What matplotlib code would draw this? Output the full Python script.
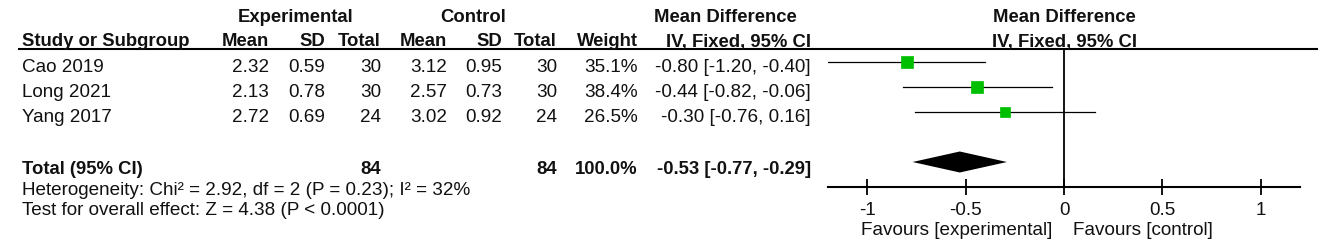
import numpy as np
import matplotlib
matplotlib.use("Agg")
import matplotlib.pyplot as plt

plt.rcParams['font.family'] = ['Liberation Sans', 'DejaVu Sans']

# study data
studies = ["Cao 2019", "Long 2021", "Yang 2017"]
exp_mean = [2.32, 2.13, 2.72]
exp_sd = [0.59, 0.78, 0.69]
exp_n = [30, 30, 24]
ctl_mean = [3.12, 2.57, 3.02]
ctl_sd = [0.95, 0.73, 0.92]
ctl_n = [30, 30, 24]
weight = [35.1, 38.4, 26.5]
md = [-0.80, -0.44, -0.30]
ci_lo = [-1.20, -0.82, -0.76]
ci_hi = [-0.40, -0.06, 0.16]

# pooled result
total_exp_n = 84
total_ctl_n = 84
total_weight = 100.0
pooled_md = -0.53
pooled_lo = -0.77
pooled_hi = -0.29
heterogeneity = "Heterogeneity: Chi\u00b2 = 2.92, df = 2 (P = 0.23); I\u00b2 = 32%"
overall = "Test for overall effect: Z = 4.38 (P < 0.0001)"

xticks = [-1, -0.5, 0, 0.5, 1]
xtick_labels = ["-1", "-0.5", "0", "0.5", "1"]

W, H = 1325, 244
FS_B = 13.3   # bold text
FS = 13.6     # regular text
green = '#00BF00'

fig = plt.figure(figsize=(W / 100, H / 100), dpi=100)
fig.patch.set_facecolor('white')

# text layer in pixel coordinates
tx = fig.add_axes([0, 0, 1, 1])
tx.set_xlim(0, W)
tx.set_ylim(H, 0)
tx.axis('off')

def put(x, y, s, ha='left', bold=False):
    tx.text(x, y, s, ha=ha, va='baseline', fontsize=FS_B if bold else FS,
            fontweight='bold' if bold else 'normal', color='#111111')

# column right edges
cols = [269, 325, 381, 447, 502, 557, 638, 811]

# headers
put(296, 21.5, "Experimental", ha='center', bold=True)
put(473, 21.5, "Control", ha='center', bold=True)
put(725, 21.5, "Mean Difference", ha='center', bold=True)
put(1064, 21.5, "Mean Difference", ha='center', bold=True)
put(22, 46.5, "Study or Subgroup", bold=True)
for x, s in zip(cols, ["Mean", "SD", "Total", "Mean", "SD", "Total", "Weight",
                       "IV, Fixed, 95% CI"]):
    put(x, 46.5, s, ha='right', bold=True)
put(1064, 46.5, "IV, Fixed, 95% CI", ha='center', bold=True)
tx.plot([18, 1318], [49, 49], color='black', lw=1.5, solid_capstyle='butt')

row0 = 62
step = 25
for i, name in enumerate(studies):
    yb = row0 + step * i + 10
    put(22, yb, name)
    vals = [f"{exp_mean[i]:.2f}", f"{exp_sd[i]:.2f}", f"{exp_n[i]}",
            f"{ctl_mean[i]:.2f}", f"{ctl_sd[i]:.2f}", f"{ctl_n[i]}",
            f"{weight[i]:.1f}%",
            f"{md[i]:.2f} [{ci_lo[i]:.2f}, {ci_hi[i]:.2f}]"]
    for x, s in zip(cols, vals):
        put(x, yb, s, ha='right')

ytot = row0 + step * 4
put(22, ytot + 12, "Total (95% CI)", bold=True)
put(cols[2], ytot + 12, f"{total_exp_n}", ha='right', bold=True)
put(cols[5], ytot + 12, f"{total_ctl_n}", ha='right', bold=True)
put(cols[6], ytot + 12, f"{total_weight:.1f}%", ha='right', bold=True)
put(cols[7], ytot + 12, f"{pooled_md:.2f} [{pooled_lo:.2f}, {pooled_hi:.2f}]",
    ha='right', bold=True)
put(22, 195, heterogeneity)
put(22, 215, overall)

# forest plot panel
x0, x1 = 828, 1300
y_top, y_axis = 49, 187
ax = fig.add_axes([x0 / W, (H - y_axis) / H, (x1 - x0) / W, (y_axis - y_top) / H])
ax.set_xlim(-1.2, 1.2)
ax.set_ylim(y_axis, y_top)
ax.patch.set_alpha(0)
for s in ['top', 'left', 'right']:
    ax.spines[s].set_visible(False)
ax.spines['bottom'].set_linewidth(1.5)
ax.set_yticks([])
ax.set_xticks(xticks)
ax.set_xticklabels(xtick_labels, fontsize=FS, color='#111111')
ax.tick_params(axis='x', direction='inout', length=11, width=1.3, pad=5)
ax.axvline(0, color='black', lw=1.3)

for i in range(len(studies)):
    y = row0 + step * i
    ax.plot([ci_lo[i], ci_hi[i]], [y, y], color='black', lw=0.9)
    side = 1.97 * np.sqrt(weight[i]) * 0.72
    ax.plot(md[i], y, marker='s', markersize=side, color=green,
            markeredgecolor=green, markeredgewidth=0.5)

ax.fill([pooled_lo, pooled_md, pooled_hi, pooled_md],
        [ytot, ytot - 10.5, ytot, ytot + 10.5], color='black', lw=0)

put(1052, 235, "Favours [experimental]", ha='right')
put(1073, 235, "Favours [control]")

fig.savefig("out.png", dpi=100)
